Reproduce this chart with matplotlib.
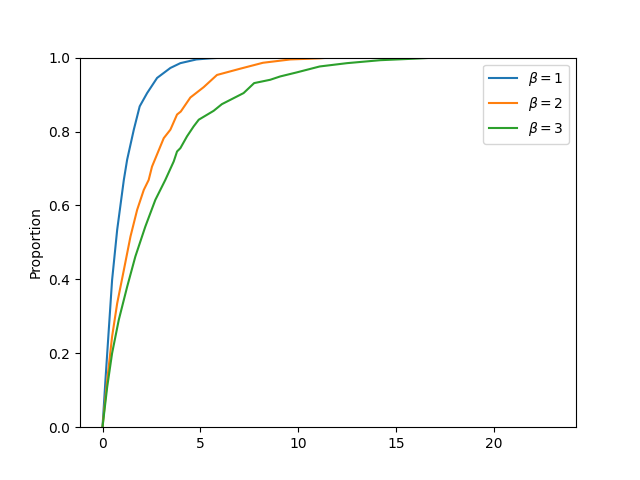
import numpy as np
import matplotlib.pyplot as plt

# points (x, proportion)
x_b1 = [0, 0.15, 0.32, 0.49, 0.75, 1.09, 1.26, 1.6, 1.9, 2.28, 2.79, 3.47, 3.98, 4.8, 5.5, 6.2, 23]
y_b1 = [0, 0.127, 0.263, 0.398, 0.534, 0.669, 0.724, 0.805, 0.868, 0.904, 0.945, 0.972, 0.985, 0.995, 0.998, 1.0, 1.0]

x_b2 = [0, 0.24, 0.49, 0.75, 1.09, 1.43, 1.77, 2.11, 2.36, 2.53, 3.13, 3.47, 3.81, 4.0, 4.49, 5.17,
        5.85, 7.04, 8.2, 9.6, 11.1, 11.6, 23]
y_b2 = [0, 0.127, 0.245, 0.335, 0.425, 0.516, 0.588, 0.642, 0.669, 0.705, 0.782, 0.805, 0.846, 0.854, 0.892, 0.920,
        0.953, 0.970, 0.986, 0.995, 0.998, 1.0, 1.0]

x_b3 = [0, 0.24, 0.49, 0.83, 1.26, 1.68, 2.19, 2.7, 3.21, 3.64, 3.81, 3.98, 4.32, 4.66,
        4.92, 5.68, 6.1, 7.21, 7.75, 8.57, 9.08, 9.93, 11.1, 12.5, 14.2, 15.9, 17.0, 23]
y_b3 = [0, 0.109, 0.2, 0.29, 0.38, 0.462, 0.543, 0.615, 0.669, 0.719, 0.746, 0.755, 0.787, 0.814,
        0.832, 0.856, 0.874, 0.904, 0.931, 0.940, 0.949, 0.960, 0.976, 0.985, 0.993, 0.997, 1.0, 1.0]

labels = [r'$\beta=1$', r'$\beta=2$', r'$\beta=3$']

fig, ax = plt.subplots(figsize=(6.4, 4.8), dpi=100)
for xs, ys, lab in zip([x_b1, x_b2, x_b3], [y_b1, y_b2, y_b3], labels):
    ax.plot(xs, ys, label=lab)

ax.set_ylim(0, 1)
ax.set_xlim(-1.15, 24.2)
ax.set_ylabel('Proportion')
ax.legend(loc='upper right')

plt.savefig('out.png')
